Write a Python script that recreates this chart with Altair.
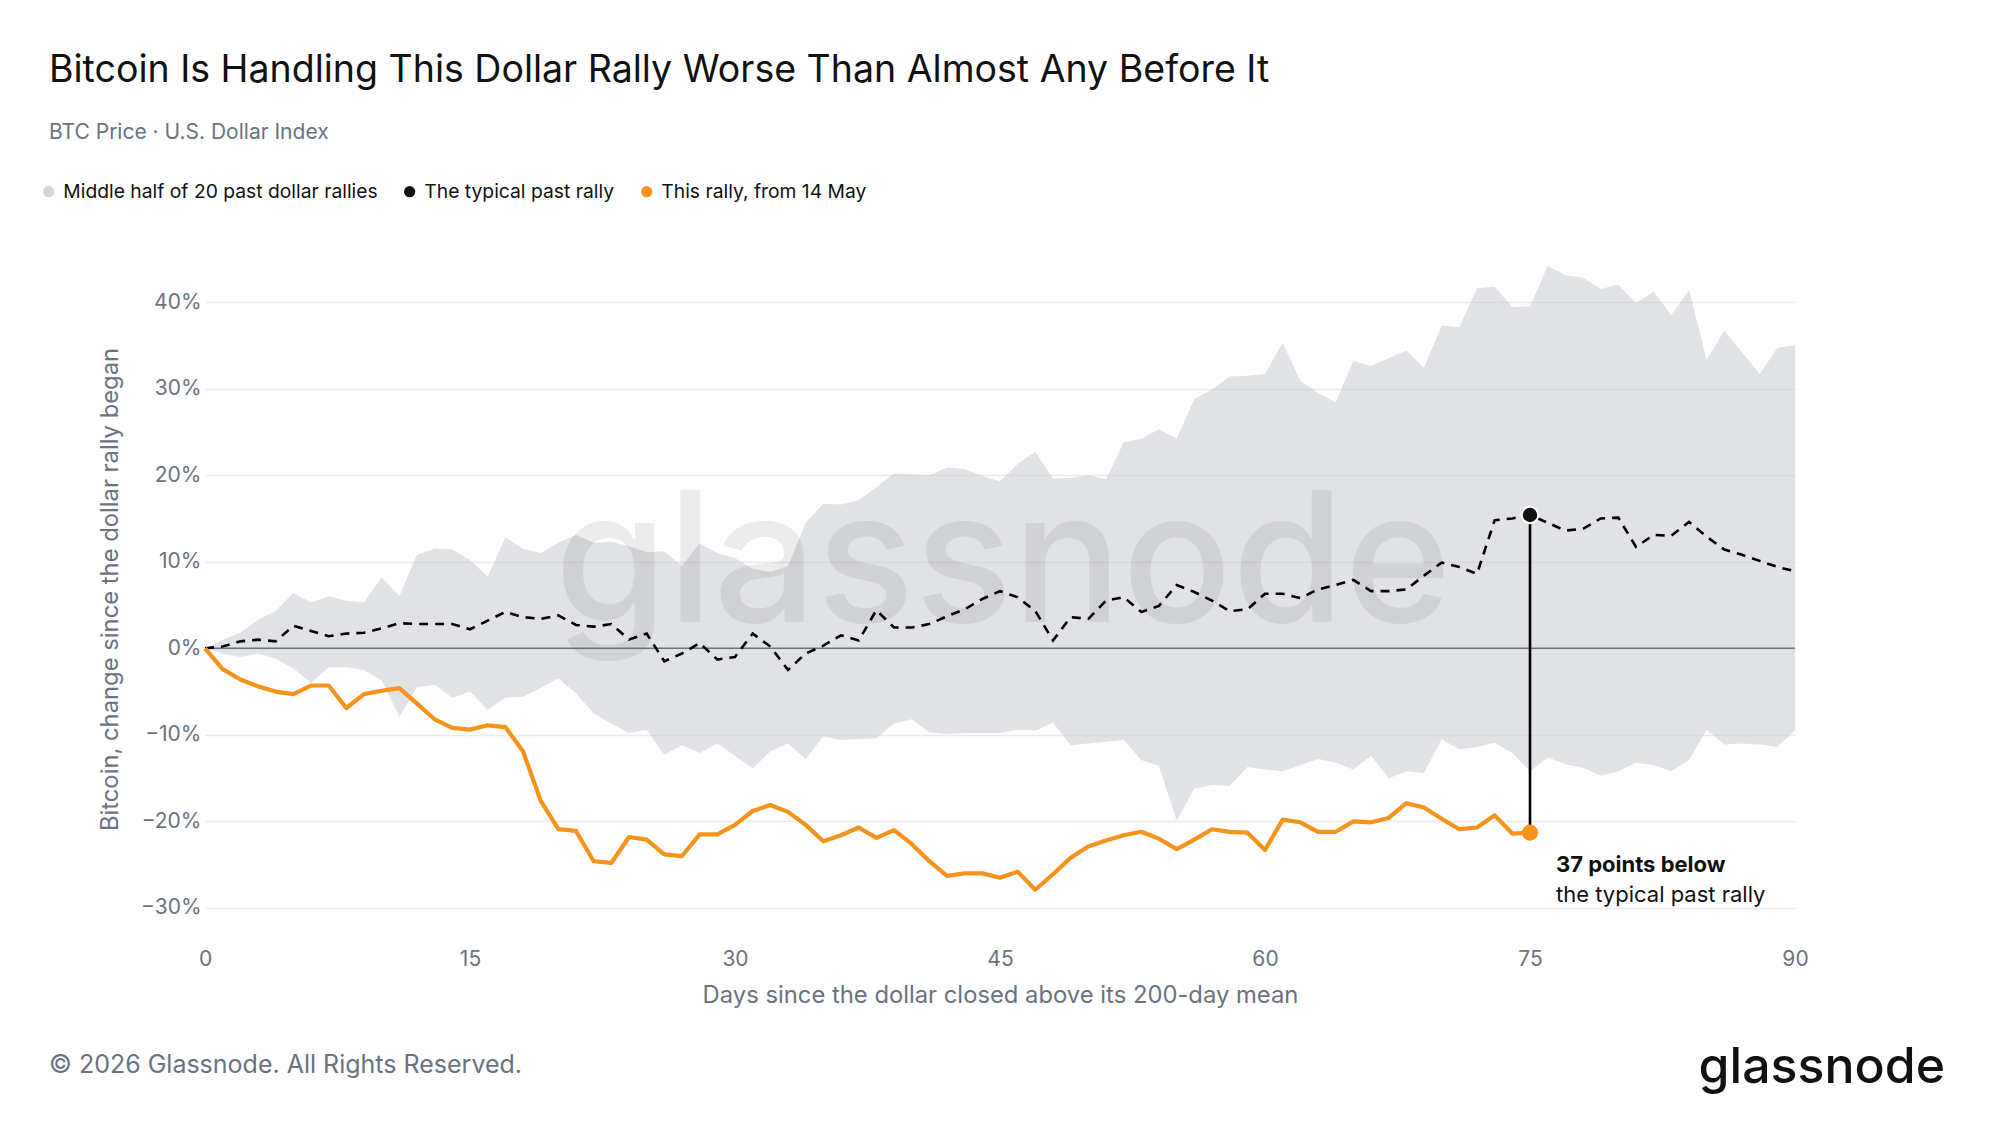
import altair as alt
import pandas as pd

# values in percent, day 0..90
band_hi = [0, 1.0, 1.8, 3.3, 4.3, 6.4, 5.3, 6.0, 5.5, 5.3,
           8.2, 6.0, 10.8, 11.5, 11.4, 10.2, 8.3, 12.8, 11.5, 11.0,
           12.2, 13.1, 12.2, 12.3, 11.8, 11.1, 11.2, 9.5, 12.1, 11.0,
           10.4, 9.2, 8.8, 9.5, 14.5, 16.7, 16.6, 17.1, 18.6, 20.2,
           20.1, 20.0, 20.9, 20.7, 19.9, 19.3, 21.3, 22.7, 19.6, 19.7,
           20.0, 19.5, 23.8, 24.2, 25.3, 24.2, 28.8, 29.9, 31.4, 31.5,
           31.7, 35.3, 30.9, 29.5, 28.4, 33.2, 32.6, 33.5, 34.4, 32.4,
           37.3, 37.1, 41.6, 41.8, 39.4, 39.5, 44.2, 43.1, 42.8, 41.5,
           42.0, 39.9, 41.2, 38.5, 41.4, 33.3, 36.7, 34.2, 31.7, 34.7,
           35.0]
band_lo = [0, -0.6, -1.0, -0.6, -1.2, -2.3, -4.0, -2.2, -2.2, -2.5,
           -3.7, -7.9, -4.5, -4.2, -5.7, -5.0, -7.1, -5.7, -5.6, -4.6,
           -3.5, -5.2, -7.5, -8.7, -9.8, -9.4, -12.3, -11.2, -12.1, -11.0,
           -12.4, -13.9, -11.9, -11.0, -12.8, -10.2, -10.6, -10.5, -10.4, -8.7,
           -8.2, -9.7, -9.9, -9.8, -9.8, -9.8, -9.4, -9.5, -8.6, -11.2,
           -11.0, -10.8, -10.6, -12.9, -13.6, -19.9, -16.2, -15.8, -15.9, -13.7,
           -14.0, -14.2, -13.5, -12.8, -13.2, -14.0, -12.4, -15.0, -14.2, -14.4,
           -10.5, -11.7, -11.4, -10.9, -12.1, -14.2, -12.6, -13.4, -13.8, -14.7,
           -14.2, -13.2, -13.5, -14.2, -12.9, -9.4, -11.1, -11.0, -11.1, -11.4,
           -9.5]
typical = [0, 0.2, 0.8, 1.0, 0.8, 2.6, 2.0, 1.4, 1.7, 1.8,
           2.3, 2.9, 2.8, 2.8, 2.8, 2.2, 3.2, 4.2, 3.6, 3.4,
           3.8, 2.7, 2.5, 2.8, 1.0, 1.7, -1.5, -0.6, 0.6, -1.3,
           -1.0, 1.7, 0.2, -2.5, -0.6, 0.3, 1.5, 0.9, 4.4, 2.4,
           2.4, 2.8, 3.7, 4.5, 5.7, 6.6, 5.9, 4.3, 0.9, 3.6,
           3.4, 5.5, 5.9, 4.2, 4.9, 7.3, 6.5, 5.5, 4.3, 4.5,
           6.3, 6.3, 5.8, 6.8, 7.3, 7.9, 6.6, 6.6, 6.8, 8.4,
           9.9, 9.4, 8.6, 14.8, 15.0, 15.4, 14.5, 13.6, 13.8, 15.0,
           15.1, 11.7, 13.1, 13.0, 14.6, 12.9, 11.4, 10.8, 10.1, 9.4,
           8.9]
# this rally, day 0..75
this_rally = [0, -2.4, -3.6, -4.4, -5.0, -5.3, -4.3, -4.3, -6.9, -5.3,
              -4.9, -4.6, -6.4, -8.2, -9.2, -9.4, -8.9, -9.1, -11.9, -17.6,
              -20.9, -21.1, -24.6, -24.8, -21.8, -22.1, -23.8, -24.0, -21.5, -21.5,
              -20.4, -18.8, -18.1, -18.9, -20.4, -22.3, -21.6, -20.7, -21.9, -21.0,
              -22.6, -24.6, -26.3, -26.0, -26.0, -26.5, -25.8, -27.9, -26.1, -24.2,
              -22.9, -22.2, -21.6, -21.2, -22.0, -23.2, -22.1, -20.9, -21.2, -21.3,
              -23.3, -19.8, -20.1, -21.2, -21.2, -20.0, -20.1, -19.6, -17.9, -18.4,
              -19.7, -20.9, -20.7, -19.3, -21.4, -21.3]

labels = ["Middle half of 20 past dollar rallies", "The typical past rally",
          "This rally, from 14 May"]
label_colors = ["#d3d5db", "#111111", "#f7931a"]
x_ticks = [0, 15, 30, 45, 60, 75, 90]
y_ticks = [-0.3, -0.2, -0.1, 0, 0.1, 0.2, 0.3, 0.4]

FONT = "Inter"
GREY = "#6b7280"
ORANGE = "#f7931a"

past = pd.DataFrame({
    "day": list(range(len(band_hi))),
    "hi": [v / 100 for v in band_hi],
    "lo": [v / 100 for v in band_lo],
    "mid": [v / 100 for v in typical],
})
now = pd.DataFrame({
    "day": list(range(len(this_rally))),
    "val": [v / 100 for v in this_rally],
})

last = len(this_rally) - 1
gap = round(typical[last] - this_rally[last])
marker = pd.DataFrame({
    "day": [last],
    "mid": [typical[last] / 100],
    "val": [this_rally[last] / 100],
})
note = pd.DataFrame({
    "day": [last, last],
    "y": [-0.250, -0.2845],
    "text": [f"{gap} points below", "the typical past rally"],
})

x_enc = alt.X("day:Q", scale=alt.Scale(domain=[0, 90], nice=False),
              axis=alt.Axis(values=x_ticks, labelFlush=False,
                            title="Days since the dollar closed above its 200-day mean"))
y_scale = alt.Scale(domain=[-0.337, 0.474], nice=False, zero=False)
y_axis = alt.Axis(values=y_ticks, format=".0%",
                  title="Bitcoin, change since the dollar rally began")

band = alt.Chart(past).mark_area(color="#c4c6cd", opacity=0.5).encode(
    x=x_enc,
    y=alt.Y("lo:Q", scale=y_scale, axis=y_axis),
    y2="hi:Q",
)

watermark = alt.Chart(pd.DataFrame({"t": ["glassnode"]})).mark_text(
    font=FONT, fontSize=182, fontWeight=500, color="#000000", opacity=0.07,
    align="center", baseline="alphabetic"
).encode(x=alt.value(798), y=alt.value(384), text="t:N")

zero = alt.Chart(pd.DataFrame({"v": [0]})).mark_rule(
    color=GREY, strokeWidth=1.5
).encode(y=alt.Y("v:Q", scale=y_scale))

mid_line = alt.Chart(past).mark_line(
    color="#000000", strokeWidth=2.6, strokeDash=[9, 7]
).encode(x="day:Q", y=alt.Y("mid:Q", scale=y_scale))

now_line = alt.Chart(now).mark_line(
    color=ORANGE, strokeWidth=4.2, strokeJoin="round"
).encode(x="day:Q", y=alt.Y("val:Q", scale=y_scale))

drop = alt.Chart(marker).mark_rule(color="#000000", strokeWidth=2.6).encode(
    x="day:Q", y=alt.Y("mid:Q", scale=y_scale), y2="val:Q"
)
dot_mid = alt.Chart(marker).mark_circle(
    color="#111111", size=270, opacity=1, stroke="#ffffff", strokeWidth=2
).encode(x="day:Q", y=alt.Y("mid:Q", scale=y_scale))
dot_now = alt.Chart(marker).mark_circle(
    color=ORANGE, size=260, opacity=1
).encode(x="day:Q", y=alt.Y("val:Q", scale=y_scale))

note_bold = alt.Chart(note.iloc[[0]]).mark_text(
    font=FONT, fontSize=22, fontWeight="bold", color="#111111",
    align="left", baseline="middle", dx=26
).encode(x="day:Q", y=alt.Y("y:Q", scale=y_scale), text="text:N")
note_plain = alt.Chart(note.iloc[[1]]).mark_text(
    font=FONT, fontSize=22, color="#111111",
    align="left", baseline="middle", dx=26
).encode(x="day:Q", y=alt.Y("y:Q", scale=y_scale), text="text:N")

key = alt.Chart(pd.DataFrame({"series": labels, "day": [0, 0, 0], "v": [0, 0, 0]})).mark_circle(
    opacity=0
).encode(
    x="day:Q",
    y=alt.Y("v:Q", scale=y_scale),
    color=alt.Color(
        "series:N",
        sort=labels,
        scale=alt.Scale(domain=labels, range=label_colors),
        legend=alt.Legend(
            title=None, orient="none", legendX=-166, legendY=-56,
            direction="horizontal", symbolType="circle", symbolSize=125,
            symbolOpacity=1, symbolStrokeWidth=0,
            labelFont=FONT, labelFontSize=19.3, labelColor="#111111",
            labelOffset=5, columnPadding=22, labelLimit=600,
        ),
    ),
)

footer = alt.Chart(pd.DataFrame({"t": ["\u00a9 2026 Glassnode. All Rights Reserved."]})).mark_text(
    font=FONT, fontSize=25, color=GREY, align="left", baseline="middle"
).encode(x=alt.value(-156), y=alt.value(827), text="t:N")

logo = alt.Chart(pd.DataFrame({"t": ["glassnode"]})).mark_text(
    font=FONT, fontSize=50, fontWeight=500, color="#111111", align="right", baseline="middle"
).encode(x=alt.value(1740), y=alt.value(830), text="t:N")

chart = alt.layer(
    band, watermark, zero, mid_line, now_line, drop, dot_mid, dot_now,
    note_bold, note_plain, key, footer, logo
).properties(
    width=1590,
    height=702,
    autosize=alt.AutoSizeParams(type="none"),
    padding={"left": 197, "top": 230, "right": 180, "bottom": 175},
    title=alt.TitleParams(
        text="Bitcoin Is Handling This Dollar Rally Worse Than Almost Any Before It",
        subtitle="BTC Price \u00b7 U.S. Dollar Index",
        anchor="start", frame="group", dx=-156, offset=39.5,
        font=FONT, fontSize=37.5, fontWeight=400, color="#111111",
        subtitleFont=FONT, subtitleFontSize=21, subtitleColor=GREY,
        subtitlePadding=32.5,
    ),
).configure_view(
    stroke=None
).configure_axis(
    labelFont=FONT, titleFont=FONT, labelColor=GREY, titleColor=GREY,
    labelFontSize=21, titleFontSize=23.8, titleFontWeight="normal",
    ticks=False, domain=False,
).configure_axisX(
    grid=False, labelPadding=8, labelFontSize=21, titleY=55, titleBaseline="middle",
).configure_axisY(
    grid=True, gridColor="#ebebeb", gridWidth=1.5, labelPadding=4,
    titleX=-95, titleY=351, titleBaseline="middle",
)

chart.save("out.html", embed_options={"renderer": "svg", "actions": False})
